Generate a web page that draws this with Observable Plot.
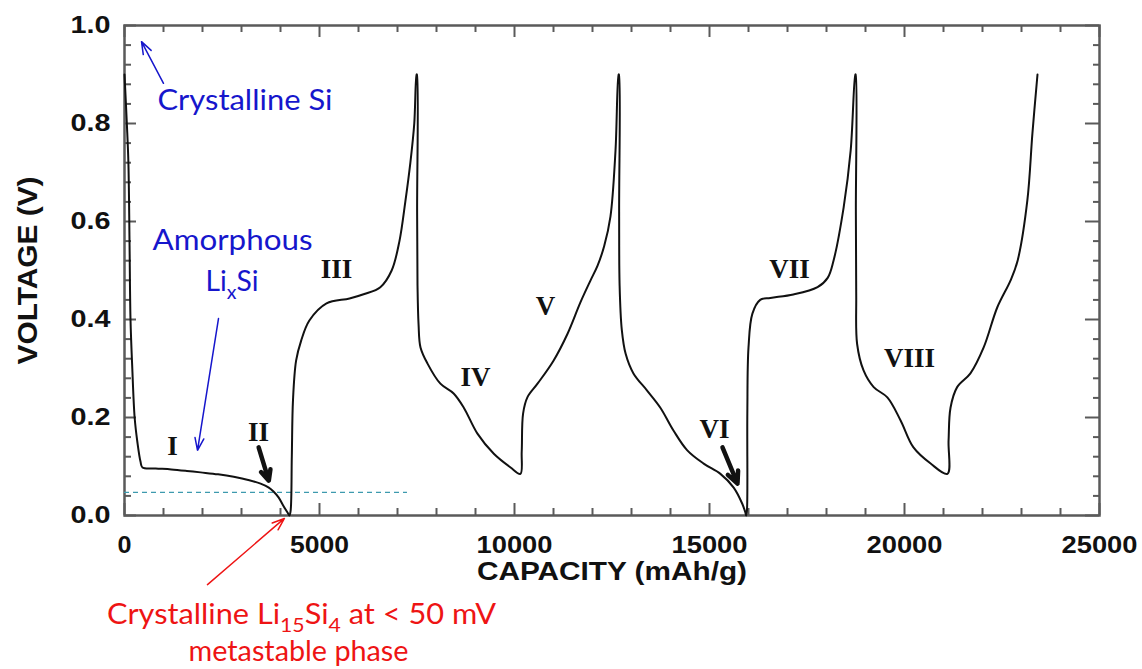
<!DOCTYPE html>
<html>
<head>
<meta charset="utf-8">
<script src="https://cdn.jsdelivr.net/npm/d3@7"></script>
<script src="https://cdn.jsdelivr.net/npm/@observablehq/plot@0.6"></script>
<style>
  html, body { margin: 0; padding: 0; background: #fff; }
  #chart svg { display: block; }
</style>
</head>
<body>
<div id="chart"></div>
<script>
// ---- data (capacity mAh/g, voltage V) ----
const discharge1 = [[0,0.90],[60,0.80],[100,0.72],[130,0.55],[154,0.40],[200,0.30],[260,0.20],[330,0.15],[410,0.11],[460,0.098],[800,0.096],[1200,0.094],[1600,0.091],[1950,0.088],[2400,0.084],[2800,0.079],[3200,0.072],[3490,0.065],[3700,0.057],[3820,0.049],[3950,0.037],[4080,0.019],[4180,0.006],[4230,0.0]];
const charge1 = [[4260,0.01],[4290,0.12],[4320,0.235],[4400,0.316],[4530,0.357],[4740,0.398],[5180,0.433],[5770,0.443],[6150,0.452],[6560,0.466],[6850,0.50],[7050,0.56],[7200,0.64],[7330,0.72],[7430,0.80],[7490,0.90]];
const discharge2 = [[7498,0.90],[7503,0.62],[7513,0.47],[7540,0.39],[7590,0.343],[7770,0.31],[8100,0.269],[8440,0.249],[8700,0.22],[9050,0.167],[9470,0.126],[9900,0.098],[10150,0.085]];
const charge2 = [[10185,0.13],[10220,0.208],[10330,0.241],[10590,0.269],[11000,0.316],[11360,0.371],[11690,0.435],[11950,0.48],[12130,0.51],[12300,0.55],[12460,0.61],[12590,0.745],[12670,0.90]];
const discharge3 = [[12678,0.90],[12683,0.62],[12695,0.47],[12750,0.38],[12850,0.33],[13050,0.29],[13400,0.255],[13740,0.22],[14080,0.173],[14430,0.133],[14850,0.106],[15280,0.085],[15620,0.057],[15840,0.024],[15920,0.006],[15940,0.0]];
const charge3 = [[15960,0.01],[15970,0.208],[16000,0.343],[16100,0.412],[16300,0.44],[16560,0.444],[17150,0.451],[17770,0.466],[18030,0.485],[18180,0.52],[18440,0.629],[18620,0.745],[18740,0.90]];
const discharge4 = [[18748,0.90],[18753,0.62],[18762,0.45],[18785,0.35],[18950,0.296],[19210,0.262],[19560,0.241],[19900,0.194],[20230,0.139],[20670,0.106],[21100,0.085]];
const charge4 = [[21130,0.153],[21180,0.22],[21350,0.262],[21690,0.29],[22030,0.343],[22380,0.425],[22720,0.48],[22900,0.52],[23150,0.643],[23280,0.78],[23410,0.90]];

// region labels
const regionNames = ["I","II","III","IV","V","VI","VII","VIII"];
const regionX = [1231, 3436, 5436, 9000, 10795, 15128, 17051, 20128];
const regionY = [0.141, 0.169, 0.502, 0.282, 0.427, 0.176, 0.502, 0.320];

// ticks
const xMajor = [0, 5000, 10000, 15000, 20000, 25000];
const xMinor = [1000,2000,3000,4000,6000,7000,8000,9000,11000,12000,13000,14000,16000,17000,18000,19000,21000,22000,23000,24000];
const yMajor = [0, 0.2, 0.4, 0.6, 0.8, 1.0];
const yMinor = [0.04,0.08,0.12,0.16,0.24,0.28,0.32,0.36,0.44,0.48,0.52,0.56,0.64,0.68,0.72,0.76,0.84,0.88,0.92,0.96];

// threshold (50 mV region marker)
const thresholdV = 0.047;
const thresholdEnd = 7256;

// annotations
const blueNoteStart = [{text: "Crystalline Si", x: 846, y: 0.8455}];
const blueNotes = [
  {text: "Amorphous", x: 2769, y: 0.560},
  {text: "LixSi", x: 2756, y: 0.478}
];
const redNotes = [
  {text: "Crystalline Li15Si4 at < 50 mV", x: 4538, y: -0.2035},
  {text: "metastable phase", x: 4462, y: -0.279}
];
const blueArrows = [
  {x1: 1000, y1: 0.882, x2: 436, y2: 0.967},
  {x1: 2410, y1: 0.402, x2: 1872, y2: 0.133}
];
const blackArrows = [
  {x1: 3440, y1: 0.139, x2: 3700, y2: 0.071},
  {x1: 15333, y1: 0.139, x2: 15718, y2: 0.065}
];
const redArrows = [
  {x1: 2128, y1: -0.141, x2: 4100, y2: -0.006}
];

// ---- build ----
const curve = [discharge1, charge1, discharge2, charge2, discharge3, charge3, discharge4, charge4]
  .flat().map(([c, v]) => ({c, v}));
const regions = regionNames.map((n, i) => ({n, x: regionX[i], y: regionY[i]}));

const BLUE = "#1616cc", RED = "#ee1414", AXIS = "#5a5a5a";
const ann = "Lato, 'Open Sans', sans-serif";

const plot = Plot.plot({
  width: 1142,
  height: 669,
  marginLeft: 124,
  marginRight: 43,
  marginTop: 25,
  marginBottom: 154,
  style: {fontFamily: "'Liberation Sans', Arial, sans-serif", background: "#fff", overflow: "visible"},
  x: {domain: [0, 25000]},
  y: {domain: [0, 1]},
  marks: [
    Plot.axisY({ticks: yMajor, tickSize: 0, tickPadding: 14, tickFormat: d => d.toFixed(1), fontSize: 24, fontWeight: "bold", fill: "#111", label: null}),
    Plot.axisX({ticks: xMajor, tickSize: 0, tickPadding: 20, tickFormat: d => String(d), fontSize: 24, fontWeight: "bold", fill: "#111", label: null}),
    // inward ticks (bottom/top/left/right)
    Plot.ruleX(xMinor, {y1: 0, y2: 0.0143, stroke: AXIS, strokeWidth: 2}),
    Plot.ruleX(xMajor, {y1: 0, y2: 0.0245, stroke: AXIS, strokeWidth: 2}),
    Plot.ruleX(xMinor, {y1: 1, y2: 1 - 0.0143, stroke: AXIS, strokeWidth: 2}),
    Plot.ruleX(xMajor, {y1: 1, y2: 1 - 0.0245, stroke: AXIS, strokeWidth: 2}),
    Plot.ruleY(yMinor, {x1: 0, x2: 180, stroke: AXIS, strokeWidth: 2}),
    Plot.ruleY(yMajor, {x1: 0, x2: 308, stroke: AXIS, strokeWidth: 2}),
    Plot.ruleY(yMinor, {x1: 25000, x2: 25000 - 154, stroke: AXIS, strokeWidth: 2}),
    Plot.ruleY(yMajor, {x1: 25000, x2: 25000 - 360, stroke: AXIS, strokeWidth: 2}),
    Plot.frame({stroke: AXIS, strokeWidth: 2.5}),
    // 50 mV dashed marker
    Plot.ruleY([thresholdV], {x1: 0, x2: thresholdEnd, stroke: "#3d9aae", strokeWidth: 1.2, strokeDasharray: "5,4"}),
    // voltage profile
    Plot.line(curve, {x: "c", y: "v", stroke: "#111", strokeWidth: 2, curve: "catmull-rom"}),
    // region labels
    Plot.text(regions, {x: "x", y: "y", text: "n", fontFamily: "'Liberation Serif', 'Times New Roman', serif", fontWeight: "bold", fontSize: 27, fill: "#111"}),
    Plot.arrow(blackArrows, {x1: "x1", y1: "y1", x2: "x2", y2: "y2", stroke: "#111", strokeWidth: 4.5, headLength: 15, headAngle: 50}),
    Plot.arrow(blueArrows, {x1: "x1", y1: "y1", x2: "x2", y2: "y2", stroke: BLUE, strokeWidth: 1.5, headLength: 13, headAngle: 40}),
    Plot.arrow(redArrows, {x1: "x1", y1: "y1", x2: "x2", y2: "y2", stroke: RED, strokeWidth: 1.5, headLength: 13, headAngle: 40}),
    Plot.text(blueNoteStart, {x: "x", y: "y", text: "text", textAnchor: "start", fill: BLUE, fontSize: 29, fontFamily: ann}),
    Plot.text(blueNotes, {x: "x", y: "y", text: "text", textAnchor: "middle", fill: BLUE, fontSize: 29, fontFamily: ann}),
    Plot.text(redNotes, {x: "x", y: "y", text: "text", textAnchor: "middle", fill: RED, fontSize: 29, fontFamily: ann}),
    // axis titles
    Plot.text(["CAPACITY (mAh/g)"], {frameAnchor: "bottom", textAnchor: "middle", dy: 64, fontSize: 25, fontWeight: "bold", fill: "#111"}),
    Plot.text(["VOLTAGE (V)"], {frameAnchor: "left", textAnchor: "middle", dx: -96, rotate: -90, fontSize: 28, fontWeight: "bold", fill: "#111"})
  ]
});

document.getElementById("chart").appendChild(plot);

// subscripts
const subs = {
  "LixSi": [["Li", false], ["x", true], ["Si", false]],
  "Crystalline Li15Si4 at < 50 mV": [["Crystalline Li", false], ["15", true], ["Si", false], ["4", true], [" at < 50 mV", false]]
};
const widths = {
  "CAPACITY (mAh/g)": 270, "VOLTAGE (V)": 188,
  "Crystalline Si": 175, "Amorphous": 160, "LixSi": 53,
  "Crystalline Li15Si4 at < 50 mV": 389, "metastable phase": 220,
  "0.0": 40, "0.2": 40, "0.4": 40, "0.6": 40, "0.8": 40, "1.0": 40,
  "0": 14, "5000": 59, "10000": 76, "15000": 76, "20000": 76, "25000": 76
};
d3.select(plot).selectAll("text").each(function() {
  const t = this.textContent;
  if (subs[t]) {
    const el = d3.select(this);
    el.text(null);
    let down = false;
    for (const [s, sub] of subs[t]) {
      const ts = el.append("tspan").text(s);
      if (sub && !down) { ts.attr("font-size", 20).attr("dy", 8); down = true; }
      else if (sub) { ts.attr("font-size", 20); }
      else if (down) { ts.attr("dy", -8); down = false; }
    }
  }
  if (widths[t] != null) {
    this.setAttribute("textLength", widths[t]);
    this.setAttribute("lengthAdjust", "spacingAndGlyphs");
  }
});
</script>
</body>
</html>
